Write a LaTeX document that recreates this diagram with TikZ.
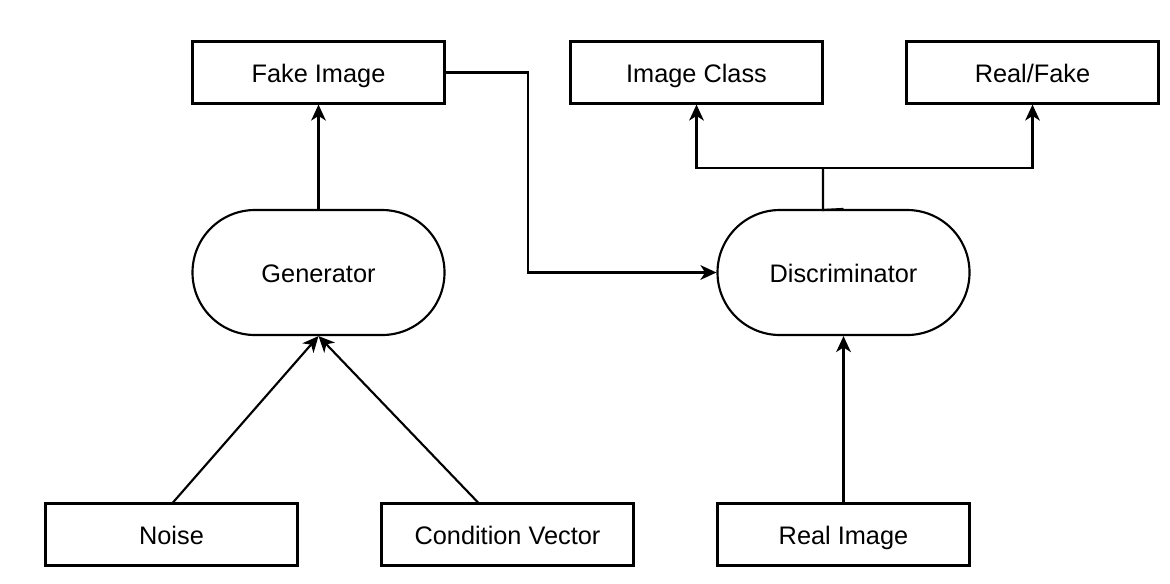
\documentclass[tikz,border=0pt]{standalone}
\usepackage{fontspec}
\setmainfont{Liberation Sans}
\usetikzlibrary{arrows.meta,calc}
\begin{document}
\begin{tikzpicture}[x=0.75pt,y=-0.75pt,
  box/.style={draw=black,line width=1.6pt,fill=white,minimum width=189pt,minimum height=46.5pt,inner sep=0pt,text height=15.5pt,text depth=0pt,font=\fontsize{19}{23}\selectfont},
  pill/.style={box,minimum height=93.75pt,rounded corners=46.8pt},
  conn/.style={draw=black,line width=1.6pt},
  arr/.style={conn,-{Stealth[length=12pt,width=11pt,inset=3.5pt]}}]
\useasboundingbox (0,0) rectangle (1170,583);
\node[box] (fake) at (318.5,72.5) {Fake Image};
\node[box] (ic) at (696.5,72.5) {Image Class};
\node[box] (rf) at (1032.5,72.5) {Real/Fake};
\node[pill] (gen) at (318.5,272.5) {Generator};
\node[pill] (disc) at (843.5,272.5) {Discriminator};
\node[box] (noise) at (171.5,534.5) {Noise};
\node[box] (cv) at (507.5,534.5) {Condition Vector};
\node[box] (real) at (843.5,534.5) {Real Image};
\coordinate (bend) at (528,72.5);
\coordinate (dtop) at (823,210);
\coordinate (split) at (823,168);
\draw[arr] (gen.north) -- (fake.south);
\draw[arr] (fake.east) -- (bend) |- (disc.west);
\draw[conn] (disc.north) -- (dtop) -- (split);
\draw[arr] (split) -| (ic.south);
\draw[arr] (split) -| (rf.south);
\draw[arr] ($(noise.north)+(1.5,0)$) -- (gen.south);
\draw[arr] ($(cv.north)+(-29.5,0)$) -- (gen.south);
\draw[arr] (real.north) -- (disc.south);
\end{tikzpicture}
\end{document}
